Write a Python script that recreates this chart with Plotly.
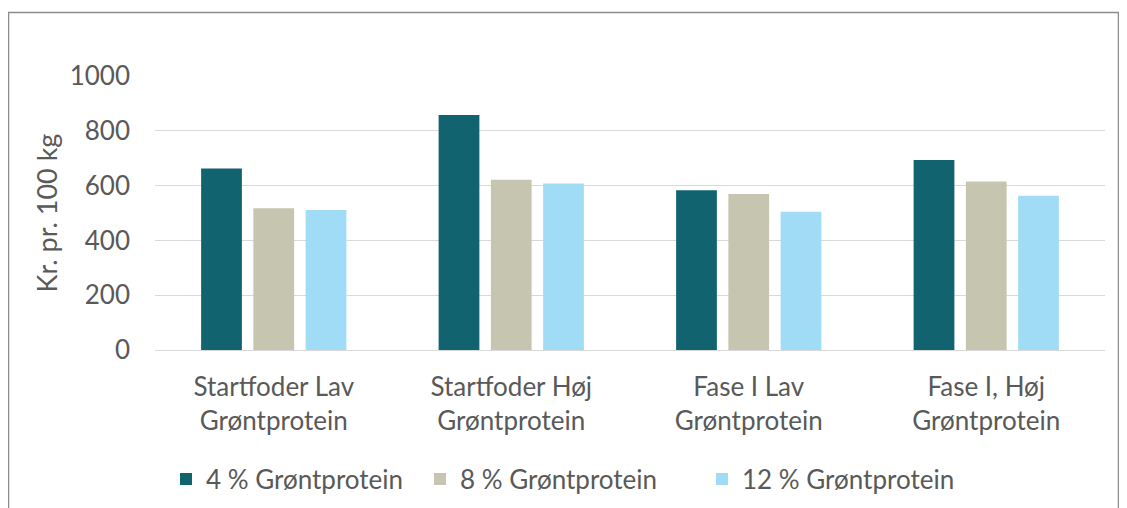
import plotly.graph_objects as go

categories = ["Startfoder Lav<br>Grøntprotein", "Startfoder Høj<br>Grøntprotein",
              "Fase I Lav<br>Grøntprotein", "Fase I, Høj<br>Grøntprotein"]
series_names = ["4 % Grøntprotein", "8 % Grøntprotein", "12 % Grøntprotein"]
values_4 = [662, 858, 583, 693]
values_8 = [517, 621, 569, 615]
values_12 = [511, 608, 505, 563]
colors = ["#10636F", "#C6C6B0", "#A0DCF6"]
y_ticks = [0, 200, 400, 600, 800, 1000]

FONT = "Lato"
TXT = "#595959"
FS = 26

OFF = 8  # page body margin
W, H = 1127 - OFF, 508 - OFF
L, T = 155 - OFF, 76 - OFF
R = W - (1105 - OFF)
B = H - (350 - OFF)
pw, ph = W - L - R, H - T - B

def px_x(p):
    return (p - OFF - L) / pw

def px_y(p):
    return (H - B - (p - OFF)) / ph

def cont_y(p):
    return (H - (p - OFF)) / H

legend_keys = ["legend", "legend2", "legend3"]
legend_sq_px = [181, 435, 717]

fig = go.Figure()
for name, vals, col, lk in zip(series_names, [values_4, values_8, values_12], colors, legend_keys):
    fig.add_trace(go.Bar(x=categories, y=vals, name=name, legend=lk,
                         marker=dict(color=col, line=dict(width=0))))

legends = {}
for lk, sq in zip(legend_keys, legend_sq_px):
    legends[lk] = dict(orientation="h", x=px_x(sq - 15), xanchor="left",
                       yref="container", y=cont_y(479), yanchor="middle",
                       font=dict(size=FS, color=TXT), bgcolor="rgba(0,0,0,0)", itemclick=False)

fig.update_layout(
    width=W, height=H,
    margin=dict(l=L, r=R, t=T, b=B),
    paper_bgcolor="white", plot_bgcolor="white",
    font=dict(family=FONT, color=TXT, size=FS),
    barmode="group", bargap=0.34, bargroupgap=0.22,
    showlegend=True,
    shapes=[dict(type="rect", xref="paper", yref="paper",
                 x0=px_x(8.5), x1=px_x(1118.5), y0=px_y(530), y1=px_y(12.5),
                 line=dict(color="#8C8C8C", width=1.5), fillcolor="rgba(0,0,0,0)", layer="below")],
    **legends,
)
fig.update_xaxes(showgrid=False, showline=False, ticks="", tickfont=dict(size=FS, color=TXT),
                 ticklabelstandoff=19, automargin=False)
fig.update_yaxes(range=[0, 1000], tickvals=y_ticks, showgrid=True, gridcolor="#D9D9D9", gridwidth=1,
                 zeroline=True, zerolinecolor="#D9D9D9", zerolinewidth=1, showline=False, ticks="",
                 tickfont=dict(size=FS, color=TXT), ticklabelstandoff=24, automargin=False,
                 title=dict(text="Kr. pr. 100 kg", font=dict(size=27, color=TXT), standoff=4))

fig.write_html("out.html")
